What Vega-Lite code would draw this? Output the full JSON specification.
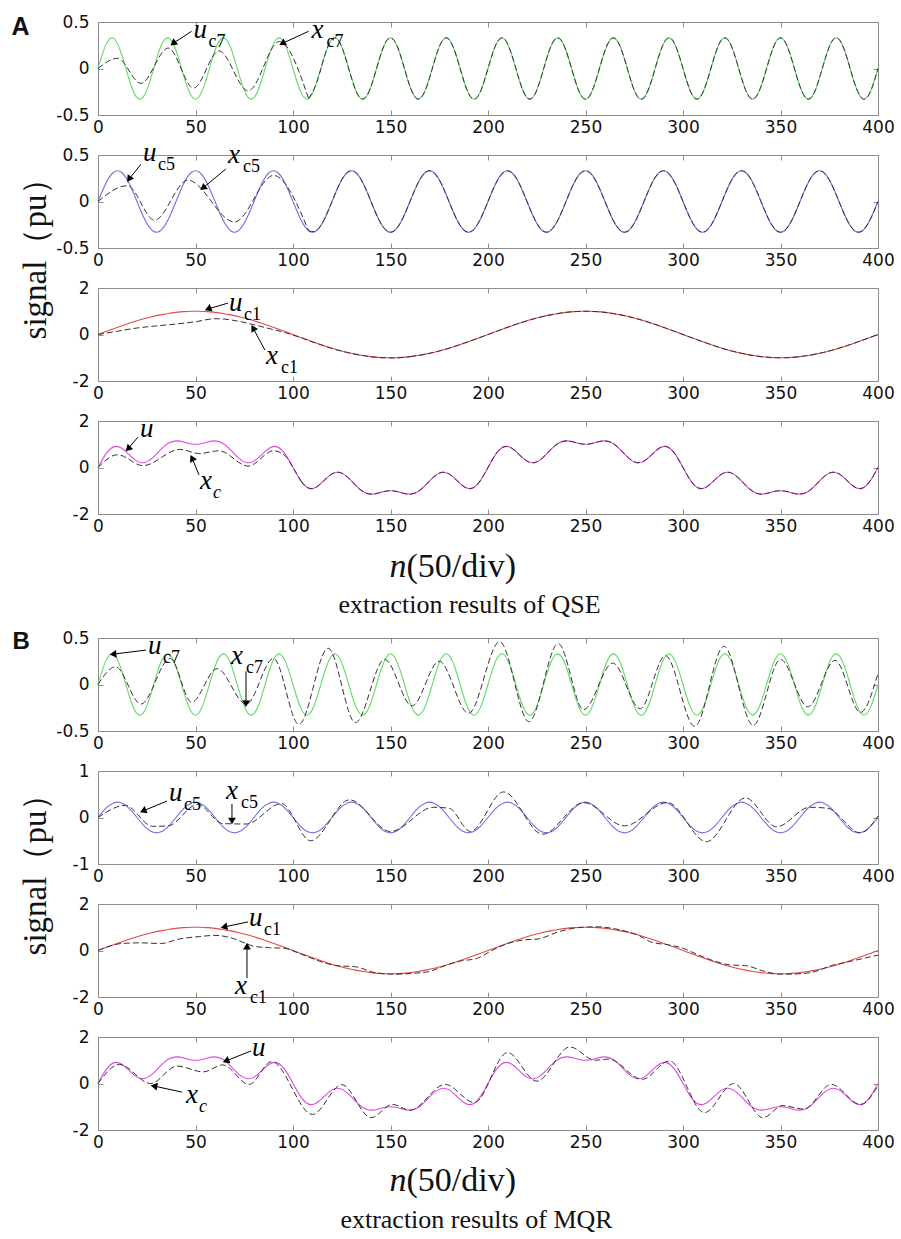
{
"$schema":"https://vega.github.io/schema/vega-lite/v6.json",
"padding":{"left":10,"top":12,"right":5,"bottom":5},
"background":"white",
"config":{"view":{"stroke":"#8c8c8c","strokeWidth":1},"axis":{"domain":false,"grid":false,"tickColor":"#8c8c8c","tickSize":-5,"tickWidth":1,"labelFont":"DejaVu Sans","labelFontSize":17,"labelColor":"#111","titleFont":"Liberation Serif","titleFontSize":25,"titleFontWeight":"normal","titleColor":"#111"}},
"datasets":{
"u":[
{"n":0,"u1":0,"u5":0,"u7":0,"u":0},
{"n":4,"u1":0.125,"u5":0.194,"u7":0.254,"u":0.573},
{"n":8,"u1":0.249,"u5":0.314,"u7":0.324,"u":0.887},
{"n":12,"u1":0.368,"u5":0.314,"u7":0.159,"u":0.841},
{"n":16,"u1":0.482,"u5":0.194,"u7":-0.121,"u":0.555},
{"n":20,"u1":0.588,"u5":0,"u7":-0.314,"u":0.274},
{"n":24,"u1":0.685,"u5":-0.194,"u7":-0.279,"u":0.212},
{"n":28,"u1":0.771,"u5":-0.314,"u7":-0.041,"u":0.416},
{"n":32,"u1":0.844,"u5":-0.314,"u7":0.226,"u":0.756},
{"n":36,"u1":0.905,"u5":-0.194,"u7":0.329,"u":1.04},
{"n":40,"u1":0.951,"u5":0,"u7":0.194,"u":1.145},
{"n":44,"u1":0.982,"u5":0.194,"u7":-0.082,"u":1.094},
{"n":48,"u1":0.998,"u5":0.314,"u7":-0.299,"u":1.013},
{"n":52,"u1":0.998,"u5":0.314,"u7":-0.299,"u":1.013},
{"n":56,"u1":0.982,"u5":0.194,"u7":-0.082,"u":1.094},
{"n":60,"u1":0.951,"u5":0,"u7":0.194,"u":1.145},
{"n":64,"u1":0.905,"u5":-0.194,"u7":0.329,"u":1.04},
{"n":68,"u1":0.844,"u5":-0.314,"u7":0.226,"u":0.756},
{"n":72,"u1":0.771,"u5":-0.314,"u7":-0.041,"u":0.416},
{"n":76,"u1":0.685,"u5":-0.194,"u7":-0.279,"u":0.212},
{"n":80,"u1":0.588,"u5":0,"u7":-0.314,"u":0.274},
{"n":84,"u1":0.482,"u5":0.194,"u7":-0.121,"u":0.555},
{"n":88,"u1":0.368,"u5":0.314,"u7":0.159,"u":0.841},
{"n":92,"u1":0.249,"u5":0.314,"u7":0.324,"u":0.887},
{"n":96,"u1":0.125,"u5":0.194,"u7":0.254,"u":0.573},
{"n":100,"u1":0,"u5":0,"u7":0,"u":0},
{"n":104,"u1":-0.125,"u5":-0.194,"u7":-0.254,"u":-0.573},
{"n":108,"u1":-0.249,"u5":-0.314,"u7":-0.324,"u":-0.887},
{"n":112,"u1":-0.368,"u5":-0.314,"u7":-0.159,"u":-0.841},
{"n":116,"u1":-0.482,"u5":-0.194,"u7":0.121,"u":-0.555},
{"n":120,"u1":-0.588,"u5":0,"u7":0.314,"u":-0.274},
{"n":124,"u1":-0.685,"u5":0.194,"u7":0.279,"u":-0.212},
{"n":128,"u1":-0.771,"u5":0.314,"u7":0.041,"u":-0.416},
{"n":132,"u1":-0.844,"u5":0.314,"u7":-0.226,"u":-0.756},
{"n":136,"u1":-0.905,"u5":0.194,"u7":-0.329,"u":-1.04},
{"n":140,"u1":-0.951,"u5":0,"u7":-0.194,"u":-1.145},
{"n":144,"u1":-0.982,"u5":-0.194,"u7":0.082,"u":-1.094},
{"n":148,"u1":-0.998,"u5":-0.314,"u7":0.299,"u":-1.013},
{"n":152,"u1":-0.998,"u5":-0.314,"u7":0.299,"u":-1.013},
{"n":156,"u1":-0.982,"u5":-0.194,"u7":0.082,"u":-1.094},
{"n":160,"u1":-0.951,"u5":0,"u7":-0.194,"u":-1.145},
{"n":164,"u1":-0.905,"u5":0.194,"u7":-0.329,"u":-1.04},
{"n":168,"u1":-0.844,"u5":0.314,"u7":-0.226,"u":-0.756},
{"n":172,"u1":-0.771,"u5":0.314,"u7":0.041,"u":-0.416},
{"n":176,"u1":-0.685,"u5":0.194,"u7":0.279,"u":-0.212},
{"n":180,"u1":-0.588,"u5":0,"u7":0.314,"u":-0.274},
{"n":184,"u1":-0.482,"u5":-0.194,"u7":0.121,"u":-0.555},
{"n":188,"u1":-0.368,"u5":-0.314,"u7":-0.159,"u":-0.841},
{"n":192,"u1":-0.249,"u5":-0.314,"u7":-0.324,"u":-0.887},
{"n":196,"u1":-0.125,"u5":-0.194,"u7":-0.254,"u":-0.573},
{"n":200,"u1":0,"u5":0,"u7":0,"u":0},
{"n":204,"u1":0.125,"u5":0.194,"u7":0.254,"u":0.573},
{"n":208,"u1":0.249,"u5":0.314,"u7":0.324,"u":0.887},
{"n":212,"u1":0.368,"u5":0.314,"u7":0.159,"u":0.841},
{"n":216,"u1":0.482,"u5":0.194,"u7":-0.121,"u":0.555},
{"n":220,"u1":0.588,"u5":0,"u7":-0.314,"u":0.274},
{"n":224,"u1":0.685,"u5":-0.194,"u7":-0.279,"u":0.212},
{"n":228,"u1":0.771,"u5":-0.314,"u7":-0.041,"u":0.416},
{"n":232,"u1":0.844,"u5":-0.314,"u7":0.226,"u":0.756},
{"n":236,"u1":0.905,"u5":-0.194,"u7":0.329,"u":1.04},
{"n":240,"u1":0.951,"u5":0,"u7":0.194,"u":1.145},
{"n":244,"u1":0.982,"u5":0.194,"u7":-0.082,"u":1.094},
{"n":248,"u1":0.998,"u5":0.314,"u7":-0.299,"u":1.013},
{"n":252,"u1":0.998,"u5":0.314,"u7":-0.299,"u":1.013},
{"n":256,"u1":0.982,"u5":0.194,"u7":-0.082,"u":1.094},
{"n":260,"u1":0.951,"u5":0,"u7":0.194,"u":1.145},
{"n":264,"u1":0.905,"u5":-0.194,"u7":0.329,"u":1.04},
{"n":268,"u1":0.844,"u5":-0.314,"u7":0.226,"u":0.756},
{"n":272,"u1":0.771,"u5":-0.314,"u7":-0.041,"u":0.416},
{"n":276,"u1":0.685,"u5":-0.194,"u7":-0.279,"u":0.212},
{"n":280,"u1":0.588,"u5":0,"u7":-0.314,"u":0.274},
{"n":284,"u1":0.482,"u5":0.194,"u7":-0.121,"u":0.555},
{"n":288,"u1":0.368,"u5":0.314,"u7":0.159,"u":0.841},
{"n":292,"u1":0.249,"u5":0.314,"u7":0.324,"u":0.887},
{"n":296,"u1":0.125,"u5":0.194,"u7":0.254,"u":0.573},
{"n":300,"u1":0,"u5":0,"u7":0,"u":0},
{"n":304,"u1":-0.125,"u5":-0.194,"u7":-0.254,"u":-0.573},
{"n":308,"u1":-0.249,"u5":-0.314,"u7":-0.324,"u":-0.887},
{"n":312,"u1":-0.368,"u5":-0.314,"u7":-0.159,"u":-0.841},
{"n":316,"u1":-0.482,"u5":-0.194,"u7":0.121,"u":-0.555},
{"n":320,"u1":-0.588,"u5":0,"u7":0.314,"u":-0.274},
{"n":324,"u1":-0.685,"u5":0.194,"u7":0.279,"u":-0.212},
{"n":328,"u1":-0.771,"u5":0.314,"u7":0.041,"u":-0.416},
{"n":332,"u1":-0.844,"u5":0.314,"u7":-0.226,"u":-0.756},
{"n":336,"u1":-0.905,"u5":0.194,"u7":-0.329,"u":-1.04},
{"n":340,"u1":-0.951,"u5":0,"u7":-0.194,"u":-1.145},
{"n":344,"u1":-0.982,"u5":-0.194,"u7":0.082,"u":-1.094},
{"n":348,"u1":-0.998,"u5":-0.314,"u7":0.299,"u":-1.013},
{"n":352,"u1":-0.998,"u5":-0.314,"u7":0.299,"u":-1.013},
{"n":356,"u1":-0.982,"u5":-0.194,"u7":0.082,"u":-1.094},
{"n":360,"u1":-0.951,"u5":0,"u7":-0.194,"u":-1.145},
{"n":364,"u1":-0.905,"u5":0.194,"u7":-0.329,"u":-1.04},
{"n":368,"u1":-0.844,"u5":0.314,"u7":-0.226,"u":-0.756},
{"n":372,"u1":-0.771,"u5":0.314,"u7":0.041,"u":-0.416},
{"n":376,"u1":-0.685,"u5":0.194,"u7":0.279,"u":-0.212},
{"n":380,"u1":-0.588,"u5":0,"u7":0.314,"u":-0.274},
{"n":384,"u1":-0.482,"u5":-0.194,"u7":0.121,"u":-0.555},
{"n":388,"u1":-0.368,"u5":-0.314,"u7":-0.159,"u":-0.841},
{"n":392,"u1":-0.249,"u5":-0.314,"u7":-0.324,"u":-0.887},
{"n":396,"u1":-0.125,"u5":-0.194,"u7":-0.254,"u":-0.573},
{"n":400,"u1":0,"u5":0,"u7":0,"u":0}
],
"x":[
{"p":"A7","n":0,"v":0},{"p":"A7","n":10,"v":0.11},{"p":"A7","n":22,"v":-0.16},{"p":"A7","n":36,"v":0.22},{"p":"A7","n":49,"v":-0.21},{"p":"A7","n":62,"v":0.19},{"p":"A7","n":77,"v":-0.24},{"p":"A7","n":93,"v":0.29},{"p":"A7","n":108,"v":-0.324},
{"p":"A5","n":0,"v":0},{"p":"A5","n":15,"v":0.17},{"p":"A5","n":29,"v":-0.2},{"p":"A5","n":46,"v":0.23},{"p":"A5","n":70,"v":-0.22},{"p":"A5","n":90,"v":0.28},{"p":"A5","n":108,"v":-0.314},
{"p":"A1","n":0,"v":0},{"p":"A1","n":10,"v":0.14},{"p":"A1","n":20,"v":0.28},{"p":"A1","n":30,"v":0.37},{"p":"A1","n":40,"v":0.45},{"p":"A1","n":50,"v":0.55},{"p":"A1","n":60,"v":0.68},{"p":"A1","n":65,"v":0.66},{"p":"A1","n":72,"v":0.57},{"p":"A1","n":80,"v":0.42},{"p":"A1","n":88,"v":0.25},{"p":"A1","n":96,"v":0.08},{"p":"A1","n":104,"v":-0.14},{"p":"A1","n":112,"v":-0.38},{"p":"A1","n":120,"v":-0.6},{"p":"A1","n":128,"v":-0.78},{"p":"A1","n":136,"v":-0.91},{"p":"A1","n":144,"v":-0.99},{"p":"A1","n":152,"v":-1.01},{"p":"A1","n":160,"v":-0.951},
{"p":"AC","n":0,"v":0},{"p":"AC","n":10,"v":0.55},{"p":"AC","n":23,"v":0.08},{"p":"AC","n":42,"v":0.78},{"p":"AC","n":52,"v":0.6},{"p":"AC","n":62,"v":0.72},{"p":"AC","n":77,"v":0.06},{"p":"AC","n":90,"v":0.72},{"p":"AC","n":96,"v":0.5},{"p":"AC","n":100,"v":0},{"p":"AC","n":104,"v":-0.573},
{"p":"B7","n":0,"v":0},{"p":"B7","n":9,"v":0.19},{"p":"B7","n":22,"v":-0.21},{"p":"B7","n":37,"v":0.28},{"p":"B7","n":48,"v":-0.19},{"p":"B7","n":61,"v":0.17},{"p":"B7","n":76,"v":-0.21},{"p":"B7","n":90,"v":0.28},{"p":"B7","n":103,"v":-0.43},{"p":"B7","n":118,"v":0.39},{"p":"B7","n":132,"v":-0.41},{"p":"B7","n":147,"v":0.27},{"p":"B7","n":161,"v":-0.23},{"p":"B7","n":175,"v":0.25},{"p":"B7","n":190,"v":-0.31},{"p":"B7","n":206,"v":0.46},{"p":"B7","n":221,"v":-0.4},{"p":"B7","n":236,"v":0.44},{"p":"B7","n":249,"v":-0.27},{"p":"B7","n":264,"v":0.23},{"p":"B7","n":278,"v":-0.26},{"p":"B7","n":291,"v":0.31},{"p":"B7","n":306,"v":-0.45},{"p":"B7","n":321,"v":0.41},{"p":"B7","n":336,"v":-0.44},{"p":"B7","n":350,"v":0.27},{"p":"B7","n":364,"v":-0.24},{"p":"B7","n":378,"v":0.26},{"p":"B7","n":391,"v":-0.3},{"p":"B7","n":400,"v":0.12},
{"p":"B5","n":0,"v":0},{"p":"B5","n":14,"v":0.26},{"p":"B5","n":28,"v":-0.19},{"p":"B5","n":36,"v":-0.18},{"p":"B5","n":51,"v":0.28},{"p":"B5","n":64,"v":-0.13},{"p":"B5","n":76,"v":-0.14},{"p":"B5","n":94,"v":0.3},{"p":"B5","n":109,"v":-0.5},{"p":"B5","n":129,"v":0.38},{"p":"B5","n":150,"v":-0.3},{"p":"B5","n":172,"v":0.22},{"p":"B5","n":180,"v":0.2},{"p":"B5","n":191,"v":-0.3},{"p":"B5","n":208,"v":0.55},{"p":"B5","n":228,"v":-0.36},{"p":"B5","n":249,"v":0.32},{"p":"B5","n":270,"v":-0.18},{"p":"B5","n":292,"v":0.32},{"p":"B5","n":312,"v":-0.52},{"p":"B5","n":332,"v":0.42},{"p":"B5","n":348,"v":-0.2},{"p":"B5","n":365,"v":0.22},{"p":"B5","n":374,"v":0.2},{"p":"B5","n":391,"v":-0.33},{"p":"B5","n":400,"v":0.03},
{"p":"B1","n":0,"v":0},{"p":"B1","n":12,"v":0.3},{"p":"B1","n":22,"v":0.33},{"p":"B1","n":32,"v":0.3},{"p":"B1","n":42,"v":0.5},{"p":"B1","n":52,"v":0.6},{"p":"B1","n":60,"v":0.65},{"p":"B1","n":68,"v":0.55},{"p":"B1","n":76,"v":0.3},{"p":"B1","n":80,"v":0.18},{"p":"B1","n":88,"v":0.12},{"p":"B1","n":95,"v":0.1},{"p":"B1","n":104,"v":-0.15},{"p":"B1","n":115,"v":-0.5},{"p":"B1","n":122,"v":-0.65},{"p":"B1","n":132,"v":-0.7},{"p":"B1","n":142,"v":-0.95},{"p":"B1","n":152,"v":-1.02},{"p":"B1","n":162,"v":-0.98},{"p":"B1","n":170,"v":-0.9},{"p":"B1","n":178,"v":-0.65},{"p":"B1","n":186,"v":-0.45},{"p":"B1","n":194,"v":-0.35},{"p":"B1","n":202,"v":0},{"p":"B1","n":210,"v":0.3},{"p":"B1","n":218,"v":0.45},{"p":"B1","n":226,"v":0.5},{"p":"B1","n":236,"v":0.8},{"p":"B1","n":246,"v":0.98},{"p":"B1","n":256,"v":1.02},{"p":"B1","n":264,"v":0.95},{"p":"B1","n":272,"v":0.8},{"p":"B1","n":276,"v":0.7},{"p":"B1","n":284,"v":0.35},{"p":"B1","n":292,"v":0.25},{"p":"B1","n":300,"v":0.1},{"p":"B1","n":308,"v":-0.2},{"p":"B1","n":316,"v":-0.45},{"p":"B1","n":324,"v":-0.62},{"p":"B1","n":332,"v":-0.65},{"p":"B1","n":342,"v":-0.9},{"p":"B1","n":350,"v":-1.02},{"p":"B1","n":360,"v":-1.0},{"p":"B1","n":368,"v":-0.9},{"p":"B1","n":376,"v":-0.65},{"p":"B1","n":384,"v":-0.5},{"p":"B1","n":392,"v":-0.35},{"p":"B1","n":400,"v":-0.2},
{"p":"BC","n":0,"v":0},{"p":"BC","n":11,"v":0.82},{"p":"BC","n":27,"v":0},{"p":"BC","n":40.5,"v":0.75},{"p":"BC","n":54,"v":0.5},{"p":"BC","n":64,"v":0.8},{"p":"BC","n":77.5,"v":-0.04},{"p":"BC","n":89,"v":0.94},{"p":"BC","n":110,"v":-1.33},{"p":"BC","n":125,"v":-0.05},{"p":"BC","n":140,"v":-1.47},{"p":"BC","n":151,"v":-0.9},{"p":"BC","n":160,"v":-1.15},{"p":"BC","n":178,"v":-0.04},{"p":"BC","n":193,"v":-0.82},{"p":"BC","n":210,"v":1.33},{"p":"BC","n":225,"v":0.1},{"p":"BC","n":242,"v":1.57},{"p":"BC","n":255,"v":1.0},{"p":"BC","n":262,"v":1.05},{"p":"BC","n":279,"v":0.18},{"p":"BC","n":293,"v":0.97},{"p":"BC","n":311,"v":-1.25},{"p":"BC","n":326,"v":0},{"p":"BC","n":341,"v":-1.47},{"p":"BC","n":351,"v":-0.95},{"p":"BC","n":362,"v":-1.1},{"p":"BC","n":376,"v":-0.04},{"p":"BC","n":391,"v":-0.9},{"p":"BC","n":400,"v":-0.1}
],
"ann":[
{"p":"A1","k":"u","t":"u","s":"c7","n":49,"v":0.33,"an":48,"av":0.4,"bn":38.5,"bv":0.27},
{"p":"A1","k":"x","t":"x","s":"c7","n":109.5,"v":0.33,"an":108,"av":0.4,"bn":94.5,"bv":0.27},
{"p":"A2","k":"u","t":"u","s":"c5","n":23.1,"v":0.435,"an":22,"av":0.4,"bn":15.9,"bv":0.24},
{"p":"A2","k":"x","t":"x","s":"c5","n":66.7,"v":0.414,"an":65.6,"av":0.35,"bn":53.8,"bv":0.145},
{"p":"A3","k":"u","t":"u","s":"c1","n":67.2,"v":1.01,"an":66.7,"av":1.35,"bn":56.4,"bv":1.1},
{"p":"A3","k":"x","t":"x","s":"c1","n":86.2,"v":-1.27,"an":85.6,"av":-0.67,"bn":79.5,"bv":0.28},
{"p":"A4","k":"u","t":"u","s":"","n":21.5,"v":1.3,"an":20.5,"av":1.31,"bn":15.4,"bv":0.8},
{"p":"A4","k":"x","t":"x","s":"c","n":52.3,"v":-0.92,"an":51.8,"av":-0.32,"bn":48.2,"bv":0.41},
{"p":"B1","k":"u","t":"u","s":"c7","n":25.6,"v":0.326,"an":24.6,"av":0.37,"bn":7.7,"bv":0.326},
{"p":"B1","k":"x","t":"x","s":"c7","n":68.2,"v":0.217,"an":75.9,"av":0.141,"bn":75.9,"bv":-0.207},
{"p":"B2","k":"u","t":"u","s":"c5","n":36.4,"v":0.355,"an":35.4,"av":0.355,"bn":23.1,"bv":0.14},
{"p":"B2","k":"x","t":"x","s":"c5","n":65.6,"v":0.4,"an":68.7,"av":0.29,"bn":68.7,"bv":-0.075},
{"p":"B3","k":"u","t":"u","s":"c1","n":77.4,"v":1.05,"an":76.9,"av":1.23,"bn":64.6,"bv":1.01},
{"p":"B3","k":"x","t":"x","s":"c1","n":70.3,"v":-1.87,"an":76.4,"av":-1.18,"bn":76.4,"bv":0.19},
{"p":"B4","k":"u","t":"u","s":"","n":79,"v":1.18,"an":78.5,"av":1.4,"bn":65.6,"bv":0.97},
{"p":"B4","k":"x","t":"x","s":"c","n":45.1,"v":-0.84,"an":43.1,"av":-0.37,"bn":28.7,"bv":-0.11}
],
"sp":[{"a":0}]
},
"spacing":40,
"bounds":"flush",
"vconcat":[
{"width":780,"height":93,"resolve":{"axis":{"x":"independent","y":"independent"}},"layer":[
{"data":{"name":"u"},"mark":{"type":"line","color":"#66d966","strokeWidth":1.1,"interpolate":"natural"},"encoding":{"x":{"field":"n","type":"quantitative","scale":{"domain":[0,400],"nice":false},"axis":{"orient":"bottom","values":[0,50,100,150,200,250,300,350,400],"labelFlush":false,"labelPadding":9,"title":null}},"y":{"field":"u7","type":"quantitative","scale":{"domain":[-0.5,0.5],"nice":false},"axis":{"orient":"left","values":[-0.5,0,0.5],"labelPadding":14,"labelExpr":"replace(format(datum.value,'~g'),'−','-')","title":"A","titleFont":"Liberation Sans","titleFontWeight":"bold","titleFontSize":25,"titleAngle":0,"titleX":-87,"titleY":12,"titleAlign":"left","titleBaseline":"alphabetic"}}}},
{"data":{"name":"x"},"transform":[{"filter":"datum.p=='A7'"}],"mark":{"type":"line","color":"#333333","strokeWidth":1,"strokeDash":[6,3],"interpolate":"monotone"},"encoding":{"x":{"field":"n","type":"quantitative","axis":{"orient":"top","values":[50,100,150,200,250,300,350],"labels":false,"title":null}},"y":{"field":"v","type":"quantitative","axis":{"orient":"right","values":[-0.5,0,0.5],"labels":false,"title":null}}}},
{"data":{"name":"u"},"transform":[{"filter":"datum.n>=108"}],"mark":{"type":"line","color":"#333333","strokeWidth":1,"strokeDash":[6,3],"interpolate":"natural"},"encoding":{"x":{"field":"n","type":"quantitative","axis":null},"y":{"field":"u7","type":"quantitative","axis":null}}},
{"data":{"name":"ann"},"transform":[{"filter":"datum.p=='A1'"}],"mark":{"type":"rule","color":"#000","strokeWidth":1},"encoding":{"x":{"field":"an","type":"quantitative","axis":null},"y":{"field":"av","type":"quantitative","axis":null},"x2":{"field":"bn"},"y2":{"field":"bv"}}},
{"data":{"name":"ann"},"transform":[{"filter":"datum.p=='A1'&&datum.k=='u'"}],"mark":{"type":"point","shape":"triangle-right","filled":true,"color":"#000","opacity":1,"size":60,"angle":143},"encoding":{"x":{"field":"bn","type":"quantitative","axis":null},"y":{"field":"bv","type":"quantitative","axis":null}}},
{"data":{"name":"ann"},"transform":[{"filter":"datum.p=='A1'&&datum.k=='x'"}],"mark":{"type":"point","shape":"triangle-right","filled":true,"color":"#000","opacity":1,"size":60,"angle":153},"encoding":{"x":{"field":"bn","type":"quantitative","axis":null},"y":{"field":"bv","type":"quantitative","axis":null}}},
{"data":{"name":"ann"},"transform":[{"filter":"datum.p=='A1'"}],"mark":{"type":"text","font":"Liberation Serif","fontStyle":"italic","fontSize":27,"align":"left","baseline":"alphabetic","color":"#000"},"encoding":{"x":{"field":"n","type":"quantitative","axis":null},"y":{"field":"v","type":"quantitative","axis":null},"text":{"field":"t"}}},
{"data":{"name":"ann"},"transform":[{"filter":"datum.p=='A1'"}],"mark":{"type":"text","font":"Liberation Serif","fontSize":18,"align":"left","baseline":"alphabetic","dx":15,"dy":9,"color":"#000"},"encoding":{"x":{"field":"n","type":"quantitative","axis":null},"y":{"field":"v","type":"quantitative","axis":null},"text":{"field":"s"}}}
]},
{"width":780,"height":93,"resolve":{"axis":{"x":"independent","y":"independent"}},"layer":[
{"data":{"name":"u"},"mark":{"type":"line","color":"#7070e0","strokeWidth":1.1,"interpolate":"natural"},"encoding":{"x":{"field":"n","type":"quantitative","scale":{"domain":[0,400],"nice":false},"axis":{"orient":"bottom","values":[0,50,100,150,200,250,300,350,400],"labelFlush":false,"labelPadding":9,"title":null}},"y":{"field":"u5","type":"quantitative","scale":{"domain":[-0.5,0.5],"nice":false},"axis":{"orient":"left","values":[-0.5,0,0.5],"labelPadding":14,"labelExpr":"replace(format(datum.value,'~g'),'−','-')","title":"signal（pu）","titleFontSize":33,"titleAngle":-90,"titleX":-53,"titleY":95,"titleAlign":"center","titleBaseline":"alphabetic"}}}},
{"data":{"name":"x"},"transform":[{"filter":"datum.p=='A5'"}],"mark":{"type":"line","color":"#333333","strokeWidth":1,"strokeDash":[6,3],"interpolate":"monotone"},"encoding":{"x":{"field":"n","type":"quantitative","axis":{"orient":"top","values":[50,100,150,200,250,300,350],"labels":false,"title":null}},"y":{"field":"v","type":"quantitative","axis":{"orient":"right","values":[-0.5,0,0.5],"labels":false,"title":null}}}},
{"data":{"name":"u"},"transform":[{"filter":"datum.n>=108"}],"mark":{"type":"line","color":"#333333","strokeWidth":1,"strokeDash":[6,3],"interpolate":"natural"},"encoding":{"x":{"field":"n","type":"quantitative","axis":null},"y":{"field":"u5","type":"quantitative","axis":null}}},
{"data":{"name":"ann"},"transform":[{"filter":"datum.p=='A2'"}],"mark":{"type":"rule","color":"#000","strokeWidth":1},"encoding":{"x":{"field":"an","type":"quantitative","axis":null},"y":{"field":"av","type":"quantitative","axis":null},"x2":{"field":"bn"},"y2":{"field":"bv"}}},
{"data":{"name":"ann"},"transform":[{"filter":"datum.p=='A2'&&datum.k=='u'"}],"mark":{"type":"point","shape":"triangle-right","filled":true,"color":"#000","opacity":1,"size":60,"angle":124},"encoding":{"x":{"field":"bn","type":"quantitative","axis":null},"y":{"field":"bv","type":"quantitative","axis":null}}},
{"data":{"name":"ann"},"transform":[{"filter":"datum.p=='A2'&&datum.k=='x'"}],"mark":{"type":"point","shape":"triangle-right","filled":true,"color":"#000","opacity":1,"size":60,"angle":143},"encoding":{"x":{"field":"bn","type":"quantitative","axis":null},"y":{"field":"bv","type":"quantitative","axis":null}}},
{"data":{"name":"ann"},"transform":[{"filter":"datum.p=='A2'"}],"mark":{"type":"text","font":"Liberation Serif","fontStyle":"italic","fontSize":27,"align":"left","baseline":"alphabetic","color":"#000"},"encoding":{"x":{"field":"n","type":"quantitative","axis":null},"y":{"field":"v","type":"quantitative","axis":null},"text":{"field":"t"}}},
{"data":{"name":"ann"},"transform":[{"filter":"datum.p=='A2'"}],"mark":{"type":"text","font":"Liberation Serif","fontSize":18,"align":"left","baseline":"alphabetic","dx":15,"dy":9,"color":"#000"},"encoding":{"x":{"field":"n","type":"quantitative","axis":null},"y":{"field":"v","type":"quantitative","axis":null},"text":{"field":"s"}}}
]},
{"width":780,"height":93,"resolve":{"axis":{"x":"independent","y":"independent"}},"layer":[
{"data":{"name":"u"},"mark":{"type":"line","color":"#e84848","strokeWidth":1.1,"interpolate":"natural"},"encoding":{"x":{"field":"n","type":"quantitative","scale":{"domain":[0,400],"nice":false},"axis":{"orient":"bottom","values":[0,50,100,150,200,250,300,350,400],"labelFlush":false,"labelPadding":9,"title":null}},"y":{"field":"u1","type":"quantitative","scale":{"domain":[-2,2],"nice":false},"axis":{"orient":"left","values":[-2,0,2],"labelPadding":14,"labelExpr":"replace(format(datum.value,'~g'),'−','-')","title":null}}}},
{"data":{"name":"x"},"transform":[{"filter":"datum.p=='A1'"}],"mark":{"type":"line","color":"#333333","strokeWidth":1,"strokeDash":[6,3],"interpolate":"monotone"},"encoding":{"x":{"field":"n","type":"quantitative","axis":{"orient":"top","values":[50,100,150,200,250,300,350],"labels":false,"title":null}},"y":{"field":"v","type":"quantitative","axis":{"orient":"right","values":[-2,0,2],"labels":false,"title":null}}}},
{"data":{"name":"u"},"transform":[{"filter":"datum.n>=160"}],"mark":{"type":"line","color":"#333333","strokeWidth":1,"strokeDash":[6,3],"interpolate":"natural"},"encoding":{"x":{"field":"n","type":"quantitative","axis":null},"y":{"field":"u1","type":"quantitative","axis":null}}},
{"data":{"name":"ann"},"transform":[{"filter":"datum.p=='A3'"}],"mark":{"type":"rule","color":"#000","strokeWidth":1},"encoding":{"x":{"field":"an","type":"quantitative","axis":null},"y":{"field":"av","type":"quantitative","axis":null},"x2":{"field":"bn"},"y2":{"field":"bv"}}},
{"data":{"name":"ann"},"transform":[{"filter":"datum.p=='A3'&&datum.k=='u'"}],"mark":{"type":"point","shape":"triangle-right","filled":true,"color":"#000","opacity":1,"size":60,"angle":159},"encoding":{"x":{"field":"bn","type":"quantitative","axis":null},"y":{"field":"bv","type":"quantitative","axis":null}}},
{"data":{"name":"ann"},"transform":[{"filter":"datum.p=='A3'&&datum.k=='x'"}],"mark":{"type":"point","shape":"triangle-right","filled":true,"color":"#000","opacity":1,"size":60,"angle":240},"encoding":{"x":{"field":"bn","type":"quantitative","axis":null},"y":{"field":"bv","type":"quantitative","axis":null}}},
{"data":{"name":"ann"},"transform":[{"filter":"datum.p=='A3'"}],"mark":{"type":"text","font":"Liberation Serif","fontStyle":"italic","fontSize":27,"align":"left","baseline":"alphabetic","color":"#000"},"encoding":{"x":{"field":"n","type":"quantitative","axis":null},"y":{"field":"v","type":"quantitative","axis":null},"text":{"field":"t"}}},
{"data":{"name":"ann"},"transform":[{"filter":"datum.p=='A3'"}],"mark":{"type":"text","font":"Liberation Serif","fontSize":18,"align":"left","baseline":"alphabetic","dx":15,"dy":9,"color":"#000"},"encoding":{"x":{"field":"n","type":"quantitative","axis":null},"y":{"field":"v","type":"quantitative","axis":null},"text":{"field":"s"}}}
]},
{"width":780,"height":93,"resolve":{"axis":{"x":"independent","y":"independent"}},"layer":[
{"data":{"name":"u"},"mark":{"type":"line","color":"#e048e0","strokeWidth":1.1,"interpolate":"natural"},"encoding":{"x":{"field":"n","type":"quantitative","scale":{"domain":[0,400],"nice":false},"axis":{"orient":"bottom","values":[0,50,100,150,200,250,300,350,400],"labelFlush":false,"labelPadding":9,"title":"(50/div)","titleFontSize":34,"titleX":308,"titleY":62,"titleAlign":"left","titleBaseline":"alphabetic"}},"y":{"field":"u","type":"quantitative","scale":{"domain":[-2,2],"nice":false},"axis":{"orient":"left","values":[-2,0,2],"labelPadding":14,"labelExpr":"replace(format(datum.value,'~g'),'−','-')","title":null}}}},
{"data":{"name":"x"},"transform":[{"filter":"datum.p=='AC'"}],"mark":{"type":"line","color":"#333333","strokeWidth":1,"strokeDash":[6,3],"interpolate":"monotone"},"encoding":{"x":{"field":"n","type":"quantitative","axis":{"orient":"top","values":[50,100,150,200,250,300,350],"labels":false,"title":"extraction results of QSE","titleFontSize":26,"titleX":371,"titleY":191,"titleAlign":"center","titleBaseline":"alphabetic"}},"y":{"field":"v","type":"quantitative","axis":{"orient":"right","values":[-2,0,2],"labels":false,"title":"n","titleFontSize":34,"titleFontStyle":"italic","titleAngle":0,"titleX":-489,"titleY":155,"titleAlign":"left","titleBaseline":"alphabetic"}}}},
{"data":{"name":"u"},"transform":[{"filter":"datum.n>=104"}],"mark":{"type":"line","color":"#333333","strokeWidth":1,"strokeDash":[6,3],"interpolate":"natural"},"encoding":{"x":{"field":"n","type":"quantitative","axis":null},"y":{"field":"u","type":"quantitative","axis":null}}},
{"data":{"name":"ann"},"transform":[{"filter":"datum.p=='A4'"}],"mark":{"type":"rule","color":"#000","strokeWidth":1},"encoding":{"x":{"field":"an","type":"quantitative","axis":null},"y":{"field":"av","type":"quantitative","axis":null},"x2":{"field":"bn"},"y2":{"field":"bv"}}},
{"data":{"name":"ann"},"transform":[{"filter":"datum.p=='A4'&&datum.k=='u'"}],"mark":{"type":"point","shape":"triangle-right","filled":true,"color":"#000","opacity":1,"size":60,"angle":135},"encoding":{"x":{"field":"bn","type":"quantitative","axis":null},"y":{"field":"bv","type":"quantitative","axis":null}}},
{"data":{"name":"ann"},"transform":[{"filter":"datum.p=='A4'&&datum.k=='x'"}],"mark":{"type":"point","shape":"triangle-right","filled":true,"color":"#000","opacity":1,"size":60,"angle":243},"encoding":{"x":{"field":"bn","type":"quantitative","axis":null},"y":{"field":"bv","type":"quantitative","axis":null}}},
{"data":{"name":"ann"},"transform":[{"filter":"datum.p=='A4'"}],"mark":{"type":"text","font":"Liberation Serif","fontStyle":"italic","fontSize":27,"align":"left","baseline":"alphabetic","color":"#000"},"encoding":{"x":{"field":"n","type":"quantitative","axis":null},"y":{"field":"v","type":"quantitative","axis":null},"text":{"field":"t"}}},
{"data":{"name":"ann"},"transform":[{"filter":"datum.p=='A4'"}],"mark":{"type":"text","font":"Liberation Serif","fontStyle":"italic","fontSize":18,"align":"left","baseline":"alphabetic","dx":13,"dy":9,"color":"#000"},"encoding":{"x":{"field":"n","type":"quantitative","axis":null},"y":{"field":"v","type":"quantitative","axis":null},"text":{"field":"s"}}}
]},
{"width":780,"height":44,"view":{"stroke":null},"data":{"name":"sp"},"mark":{"type":"point","opacity":0},"encoding":{}},
{"width":780,"height":93,"resolve":{"axis":{"x":"independent","y":"independent"}},"layer":[
{"data":{"name":"u"},"mark":{"type":"line","color":"#66d966","strokeWidth":1.1,"interpolate":"natural"},"encoding":{"x":{"field":"n","type":"quantitative","scale":{"domain":[0,400],"nice":false},"axis":{"orient":"bottom","values":[0,50,100,150,200,250,300,350,400],"labelFlush":false,"labelPadding":9,"title":null}},"y":{"field":"u7","type":"quantitative","scale":{"domain":[-0.5,0.5],"nice":false},"axis":{"orient":"left","values":[-0.5,0,0.5],"labelPadding":14,"labelExpr":"replace(format(datum.value,'~g'),'−','-')","title":"B","titleFont":"Liberation Sans","titleFontWeight":"bold","titleFontSize":24,"titleAngle":0,"titleX":-86,"titleY":10,"titleAlign":"left","titleBaseline":"alphabetic"}}}},
{"data":{"name":"x"},"transform":[{"filter":"datum.p=='B7'"}],"mark":{"type":"line","color":"#333333","strokeWidth":1,"strokeDash":[6,3],"interpolate":"monotone"},"encoding":{"x":{"field":"n","type":"quantitative","axis":{"orient":"top","values":[50,100,150,200,250,300,350],"labels":false,"title":null}},"y":{"field":"v","type":"quantitative","axis":{"orient":"right","values":[-0.5,0,0.5],"labels":false,"title":null}}}},
{"data":{"name":"ann"},"transform":[{"filter":"datum.p=='B1'"}],"mark":{"type":"rule","color":"#000","strokeWidth":1},"encoding":{"x":{"field":"an","type":"quantitative","axis":null},"y":{"field":"av","type":"quantitative","axis":null},"x2":{"field":"bn"},"y2":{"field":"bv"}}},
{"data":{"name":"ann"},"transform":[{"filter":"datum.p=='B1'&&datum.k=='u'"}],"mark":{"type":"point","shape":"triangle-right","filled":true,"color":"#000","opacity":1,"size":60,"angle":174},"encoding":{"x":{"field":"bn","type":"quantitative","axis":null},"y":{"field":"bv","type":"quantitative","axis":null}}},
{"data":{"name":"ann"},"transform":[{"filter":"datum.p=='B1'&&datum.k=='x'"}],"mark":{"type":"point","shape":"triangle-right","filled":true,"color":"#000","opacity":1,"size":60,"angle":92},"encoding":{"x":{"field":"bn","type":"quantitative","axis":null},"y":{"field":"bv","type":"quantitative","axis":null}}},
{"data":{"name":"ann"},"transform":[{"filter":"datum.p=='B1'"}],"mark":{"type":"text","font":"Liberation Serif","fontStyle":"italic","fontSize":27,"align":"left","baseline":"alphabetic","color":"#000"},"encoding":{"x":{"field":"n","type":"quantitative","axis":null},"y":{"field":"v","type":"quantitative","axis":null},"text":{"field":"t"}}},
{"data":{"name":"ann"},"transform":[{"filter":"datum.p=='B1'"}],"mark":{"type":"text","font":"Liberation Serif","fontSize":18,"align":"left","baseline":"alphabetic","dx":15,"dy":9,"color":"#000"},"encoding":{"x":{"field":"n","type":"quantitative","axis":null},"y":{"field":"v","type":"quantitative","axis":null},"text":{"field":"s"}}}
]},
{"width":780,"height":93,"resolve":{"axis":{"x":"independent","y":"independent"}},"layer":[
{"data":{"name":"u"},"mark":{"type":"line","color":"#7070e0","strokeWidth":1.1,"interpolate":"natural"},"encoding":{"x":{"field":"n","type":"quantitative","scale":{"domain":[0,400],"nice":false},"axis":{"orient":"bottom","values":[0,50,100,150,200,250,300,350,400],"labelFlush":false,"labelPadding":9,"title":null}},"y":{"field":"u5","type":"quantitative","scale":{"domain":[-1,1],"nice":false},"axis":{"orient":"left","values":[-1,0,1],"labelPadding":14,"labelExpr":"replace(format(datum.value,'~g'),'−','-')","title":"signal（pu）","titleFontSize":33,"titleAngle":-90,"titleX":-53,"titleY":95,"titleAlign":"center","titleBaseline":"alphabetic"}}}},
{"data":{"name":"x"},"transform":[{"filter":"datum.p=='B5'"}],"mark":{"type":"line","color":"#333333","strokeWidth":1,"strokeDash":[6,3],"interpolate":"monotone"},"encoding":{"x":{"field":"n","type":"quantitative","axis":{"orient":"top","values":[50,100,150,200,250,300,350],"labels":false,"title":null}},"y":{"field":"v","type":"quantitative","axis":{"orient":"right","values":[-1,0,1],"labels":false,"title":null}}}},
{"data":{"name":"ann"},"transform":[{"filter":"datum.p=='B2'"}],"mark":{"type":"rule","color":"#000","strokeWidth":1},"encoding":{"x":{"field":"an","type":"quantitative","axis":null},"y":{"field":"av","type":"quantitative","axis":null},"x2":{"field":"bn"},"y2":{"field":"bv"}}},
{"data":{"name":"ann"},"transform":[{"filter":"datum.p=='B2'&&datum.k=='u'"}],"mark":{"type":"point","shape":"triangle-right","filled":true,"color":"#000","opacity":1,"size":60,"angle":157},"encoding":{"x":{"field":"bn","type":"quantitative","axis":null},"y":{"field":"bv","type":"quantitative","axis":null}}},
{"data":{"name":"ann"},"transform":[{"filter":"datum.p=='B2'&&datum.k=='x'"}],"mark":{"type":"point","shape":"triangle-right","filled":true,"color":"#000","opacity":1,"size":60,"angle":90},"encoding":{"x":{"field":"bn","type":"quantitative","axis":null},"y":{"field":"bv","type":"quantitative","axis":null}}},
{"data":{"name":"ann"},"transform":[{"filter":"datum.p=='B2'"}],"mark":{"type":"text","font":"Liberation Serif","fontStyle":"italic","fontSize":27,"align":"left","baseline":"alphabetic","color":"#000"},"encoding":{"x":{"field":"n","type":"quantitative","axis":null},"y":{"field":"v","type":"quantitative","axis":null},"text":{"field":"t"}}},
{"data":{"name":"ann"},"transform":[{"filter":"datum.p=='B2'"}],"mark":{"type":"text","font":"Liberation Serif","fontSize":18,"align":"left","baseline":"alphabetic","dx":15,"dy":9,"color":"#000"},"encoding":{"x":{"field":"n","type":"quantitative","axis":null},"y":{"field":"v","type":"quantitative","axis":null},"text":{"field":"s"}}}
]},
{"width":780,"height":93,"resolve":{"axis":{"x":"independent","y":"independent"}},"layer":[
{"data":{"name":"u"},"mark":{"type":"line","color":"#e84848","strokeWidth":1.1,"interpolate":"natural"},"encoding":{"x":{"field":"n","type":"quantitative","scale":{"domain":[0,400],"nice":false},"axis":{"orient":"bottom","values":[0,50,100,150,200,250,300,350,400],"labelFlush":false,"labelPadding":9,"title":null}},"y":{"field":"u1","type":"quantitative","scale":{"domain":[-2,2],"nice":false},"axis":{"orient":"left","values":[-2,0,2],"labelPadding":14,"labelExpr":"replace(format(datum.value,'~g'),'−','-')","title":null}}}},
{"data":{"name":"x"},"transform":[{"filter":"datum.p=='B1'"}],"mark":{"type":"line","color":"#333333","strokeWidth":1,"strokeDash":[6,3],"interpolate":"monotone"},"encoding":{"x":{"field":"n","type":"quantitative","axis":{"orient":"top","values":[50,100,150,200,250,300,350],"labels":false,"title":null}},"y":{"field":"v","type":"quantitative","axis":{"orient":"right","values":[-2,0,2],"labels":false,"title":null}}}},
{"data":{"name":"ann"},"transform":[{"filter":"datum.p=='B3'"}],"mark":{"type":"rule","color":"#000","strokeWidth":1},"encoding":{"x":{"field":"an","type":"quantitative","axis":null},"y":{"field":"av","type":"quantitative","axis":null},"x2":{"field":"bn"},"y2":{"field":"bv"}}},
{"data":{"name":"ann"},"transform":[{"filter":"datum.p=='B3'&&datum.k=='u'"}],"mark":{"type":"point","shape":"triangle-right","filled":true,"color":"#000","opacity":1,"size":60,"angle":168},"encoding":{"x":{"field":"bn","type":"quantitative","axis":null},"y":{"field":"bv","type":"quantitative","axis":null}}},
{"data":{"name":"ann"},"transform":[{"filter":"datum.p=='B3'&&datum.k=='x'"}],"mark":{"type":"point","shape":"triangle-right","filled":true,"color":"#000","opacity":1,"size":60,"angle":270},"encoding":{"x":{"field":"bn","type":"quantitative","axis":null},"y":{"field":"bv","type":"quantitative","axis":null}}},
{"data":{"name":"ann"},"transform":[{"filter":"datum.p=='B3'"}],"mark":{"type":"text","font":"Liberation Serif","fontStyle":"italic","fontSize":27,"align":"left","baseline":"alphabetic","color":"#000"},"encoding":{"x":{"field":"n","type":"quantitative","axis":null},"y":{"field":"v","type":"quantitative","axis":null},"text":{"field":"t"}}},
{"data":{"name":"ann"},"transform":[{"filter":"datum.p=='B3'"}],"mark":{"type":"text","font":"Liberation Serif","fontSize":18,"align":"left","baseline":"alphabetic","dx":15,"dy":9,"color":"#000"},"encoding":{"x":{"field":"n","type":"quantitative","axis":null},"y":{"field":"v","type":"quantitative","axis":null},"text":{"field":"s"}}}
]},
{"width":780,"height":93,"resolve":{"axis":{"x":"independent","y":"independent"}},"layer":[
{"data":{"name":"u"},"mark":{"type":"line","color":"#e048e0","strokeWidth":1.1,"interpolate":"natural"},"encoding":{"x":{"field":"n","type":"quantitative","scale":{"domain":[0,400],"nice":false},"axis":{"orient":"bottom","values":[0,50,100,150,200,250,300,350,400],"labelFlush":false,"labelPadding":9,"title":"(50/div)","titleFontSize":34,"titleX":308,"titleY":60,"titleAlign":"left","titleBaseline":"alphabetic"}},"y":{"field":"u","type":"quantitative","scale":{"domain":[-2,2],"nice":false},"axis":{"orient":"left","values":[-2,0,2],"labelPadding":14,"labelExpr":"replace(format(datum.value,'~g'),'−','-')","title":null}}}},
{"data":{"name":"x"},"transform":[{"filter":"datum.p=='BC'"}],"mark":{"type":"line","color":"#333333","strokeWidth":1,"strokeDash":[6,3],"interpolate":"monotone"},"encoding":{"x":{"field":"n","type":"quantitative","axis":{"orient":"top","values":[50,100,150,200,250,300,350],"labels":false,"title":"extraction results of MQR","titleFontSize":26,"titleX":378,"titleY":190,"titleAlign":"center","titleBaseline":"alphabetic"}},"y":{"field":"v","type":"quantitative","axis":{"orient":"right","values":[-2,0,2],"labels":false,"title":"n","titleFontSize":34,"titleFontStyle":"italic","titleAngle":0,"titleX":-489,"titleY":153,"titleAlign":"left","titleBaseline":"alphabetic"}}}},
{"data":{"name":"ann"},"transform":[{"filter":"datum.p=='B4'"}],"mark":{"type":"rule","color":"#000","strokeWidth":1},"encoding":{"x":{"field":"an","type":"quantitative","axis":null},"y":{"field":"av","type":"quantitative","axis":null},"x2":{"field":"bn"},"y2":{"field":"bv"}}},
{"data":{"name":"ann"},"transform":[{"filter":"datum.p=='B4'&&datum.k=='u'"}],"mark":{"type":"point","shape":"triangle-right","filled":true,"color":"#000","opacity":1,"size":60,"angle":158},"encoding":{"x":{"field":"bn","type":"quantitative","axis":null},"y":{"field":"bv","type":"quantitative","axis":null}}},
{"data":{"name":"ann"},"transform":[{"filter":"datum.p=='B4'&&datum.k=='x'"}],"mark":{"type":"point","shape":"triangle-right","filled":true,"color":"#000","opacity":1,"size":60,"angle":190},"encoding":{"x":{"field":"bn","type":"quantitative","axis":null},"y":{"field":"bv","type":"quantitative","axis":null}}},
{"data":{"name":"ann"},"transform":[{"filter":"datum.p=='B4'"}],"mark":{"type":"text","font":"Liberation Serif","fontStyle":"italic","fontSize":27,"align":"left","baseline":"alphabetic","color":"#000"},"encoding":{"x":{"field":"n","type":"quantitative","axis":null},"y":{"field":"v","type":"quantitative","axis":null},"text":{"field":"t"}}},
{"data":{"name":"ann"},"transform":[{"filter":"datum.p=='B4'"}],"mark":{"type":"text","font":"Liberation Serif","fontStyle":"italic","fontSize":18,"align":"left","baseline":"alphabetic","dx":13,"dy":9,"color":"#000"},"encoding":{"x":{"field":"n","type":"quantitative","axis":null},"y":{"field":"v","type":"quantitative","axis":null},"text":{"field":"s"}}}
]}
]
}
